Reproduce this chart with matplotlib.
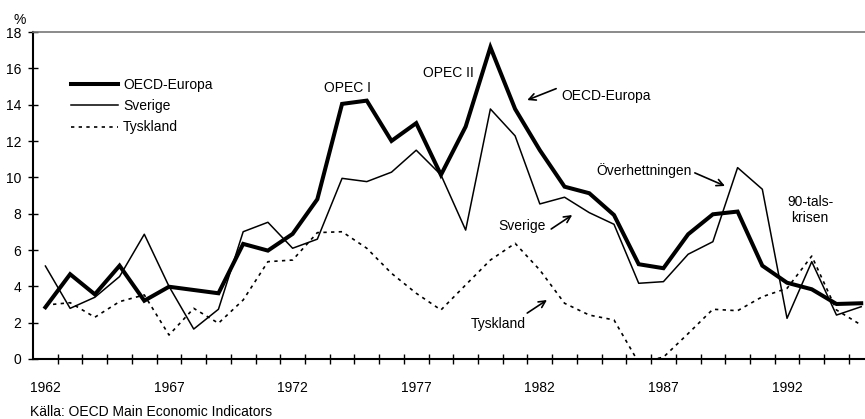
import matplotlib.pyplot as plt
import numpy as np

plt.rcParams['font.family'] = ['Liberation Sans', 'DejaVu Sans']
plt.rcParams['font.size'] = 10

years = list(range(1962, 1996))

# inflation, % per year
oecd_europa = [2.85, 4.67, 3.56, 5.14, 3.21, 3.98, 3.8, 3.62, 6.34, 5.97,
               6.89, 8.8, 14.05, 14.23, 12.01, 12.99, 10.14, 12.8, 17.17, 13.77,
               11.5, 9.49, 9.13, 7.93, 5.22, 5.0, 6.87, 7.97, 8.12, 5.14,
               4.2, 3.84, 3.03, 3.07]
sverige = [5.12, 2.79, 3.4, 4.54, 6.87, 4.0, 1.65, 2.74, 7.01, 7.53,
           6.1, 6.6, 9.95, 9.77, 10.29, 11.5, 10.14, 7.1, 13.77, 12.29,
           8.54, 8.91, 8.06, 7.42, 4.17, 4.26, 5.77, 6.46, 10.54, 9.35,
           2.24, 5.36, 2.42, 2.88]
tyskland = [2.97, 3.1, 2.3, 3.16, 3.53, 1.32, 2.79, 1.97, 3.25, 5.36,
            5.45, 6.96, 7.01, 6.1, 4.72, 3.62, 2.7, 4.08, 5.45, 6.37,
            4.9, 3.07, 2.42, 2.15, -0.2, 0.1, 1.4, 2.74, 2.66, 3.43,
            3.89, 5.67, 2.7, 1.87]

label_years = [1962, 1967, 1972, 1977, 1982, 1987, 1992]

fig = plt.figure(figsize=(8.65, 4.19), dpi=100)
ax = fig.add_axes([0.0382, 0.1432, 0.9717, 0.780])

ax.plot(years, oecd_europa, color='black', lw=2.9, label='OECD-Europa',
        solid_joinstyle='miter')
ax.plot(years, sverige, color='black', lw=1.1, label='Sverige')
ax.plot(years, tyskland, color='black', lw=1.2, linestyle=(0, (2, 2.6)),
        label='Tyskland')

ax.set_xlim(1961.5, 1995.5)
ax.set_ylim(0, 18)
ax.set_yticks(np.arange(0, 19, 2))
ax.set_xticks(label_years)
ax.set_xticks(np.arange(1962.5, 1995.5, 1), minor=True)
ax.tick_params(axis='x', which='major', length=0, pad=15.5, labelsize=10)
ax.tick_params(axis='x', which='minor', direction='inout', length=7, width=1)
ax.tick_params(axis='y', direction='inout', length=7, width=1, pad=5,
               labelsize=10)

for s in ['left', 'bottom']:
    ax.spines[s].set_linewidth(1.5)
ax.spines['top'].set_color('#777777')
ax.spines['top'].set_linewidth(1.2)
ax.spines['right'].set_visible(False)

ax.legend(loc='upper left', bbox_to_anchor=(71 / 865, (419 - 78) / 419),
          bbox_transform=fig.transFigure, frameon=False, borderpad=0,
          borderaxespad=0, handlelength=3.4, handletextpad=0.35,
          labelspacing=0.52, fontsize=10)

ax.text(1974.2, 14.93, 'OPEC I', ha='center', va='center')
ax.text(1978.29, 15.76, 'OPEC II', ha='center', va='center')
ax.text(1984.68, 14.49, 'OECD-Europa', ha='center', va='center')
ax.text(1981.29, 7.33, 'Sverige', ha='center', va='center')
ax.text(1980.32, 1.93, 'Tyskland', ha='center', va='center')
ax.text(1986.21, 10.36, 'Överhettningen', ha='center', va='center')
ax.text(1992.93, 8.21, '90-tals-\nkrisen', ha='center', va='center',
        linespacing=1.15)

arrows = [((1981.49, 14.26), (1982.66, 14.89)),
          ((1983.31, 7.93), (1982.46, 7.16)),
          ((1982.29, 3.25), (1981.49, 2.53)),
          ((1989.49, 9.53), (1988.27, 10.25))]
for head, tail in arrows:
    ax.annotate('', xy=head, xytext=tail,
                arrowprops=dict(arrowstyle='->', lw=1.2, color='black',
                                shrinkA=0, shrinkB=0, mutation_scale=12))

fig.text(20 / 865, 1 - 20 / 419, '%', ha='center', va='center', fontsize=10)
fig.text(30 / 865, 1 - 412 / 419, 'Källa: OECD Main Economic Indicators',
         ha='left', va='center', fontsize=10)

fig.savefig('out.png', dpi=100)
